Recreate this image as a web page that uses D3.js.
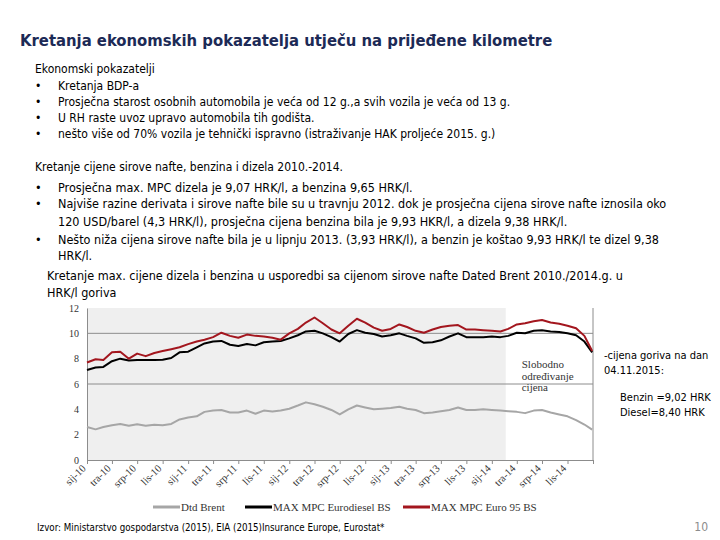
<html>
<head>
<meta charset="utf-8">
<script src="https://d3js.org/d3.v7.min.js"></script>
<style>
body { margin: 0; background: #fff; }
.txt { font-family: "Liberation Sans Narrow", "Arial Narrow", "DejaVu Sans Condensed", sans-serif; fill: #000; }
.ser { font-family: "Liberation Serif", "Times New Roman", serif; fill: #333; }
</style>
</head>
<body>
<svg id="c" width="720" height="540"></svg>
<script>
// monthly values, 1st of each month Jan 2010 .. Dec 2014, last one = end of Dec 2014 (HRK/l)
var brent = [2.6, 2.42, 2.6, 2.75, 2.85, 2.7, 2.82, 2.7, 2.78, 2.75, 2.85, 3.2,
  3.35, 3.45, 3.8, 3.9, 3.95, 3.75, 3.75, 3.9, 3.65, 3.9, 3.82, 3.9,
  4.05, 4.3, 4.55, 4.4, 4.2, 3.95, 3.6, 4.0, 4.3, 4.15, 4.0, 4.05,
  4.1, 4.2, 4.05, 3.95, 3.7, 3.75, 3.85, 3.95, 4.15, 3.95, 3.95, 4.0,
  3.95, 3.9, 3.85, 3.8, 3.7, 3.9, 3.95, 3.75, 3.6, 3.45, 3.15, 2.8, 2.4];
var diesel = [7.1, 7.3, 7.35, 7.8, 8.0, 7.85, 7.9, 7.9, 7.9, 7.92, 8.05, 8.5,
  8.55, 8.9, 9.2, 9.35, 9.4, 9.1, 9.0, 9.15, 9.05, 9.3, 9.35, 9.4,
  9.6, 9.85, 10.15, 10.2, 10.0, 9.7, 9.35, 9.95, 10.25, 10.05, 9.95, 9.75,
  9.85, 10.0, 9.8, 9.6, 9.25, 9.3, 9.45, 9.75, 10.0, 9.7, 9.7, 9.7,
  9.75, 9.7, 9.8, 10.05, 10.0, 10.2, 10.25, 10.15, 10.1, 10.0, 9.85, 9.35, 8.5];
var euro95 = [7.7, 7.95, 7.9, 8.5, 8.55, 8.0, 8.4, 8.2, 8.45, 8.6, 8.75, 8.9,
  9.15, 9.35, 9.5, 9.7, 10.05, 9.8, 9.65, 9.9, 9.8, 9.75, 9.65, 9.5,
  10.0, 10.35, 10.85, 11.25, 10.8, 10.3, 10.0, 10.6, 11.15, 10.85, 10.45, 10.2,
  10.35, 10.7, 10.5, 10.2, 10.05, 10.3, 10.5, 10.6, 10.65, 10.3, 10.3, 10.25,
  10.2, 10.15, 10.35, 10.7, 10.8, 10.95, 11.05, 10.85, 10.75, 10.6, 10.4, 9.8, 8.6];
var seriesNames = ["Dtd Brent", "MAX MPC Eurodiesel BS", "MAX MPC Euro 95 BS"];
var seriesColors = ["#a6a6a6", "#000000", "#a3161e"];
var monthLabels = ["sij", "tra", "srp", "lis"];
var yTicks = [0, 2, 4, 6, 8, 10, 12];
var gridVals = [6, 10];
var freeDate = new Date(2014, 1, 20);

var dates = d3.range(brent.length).map(function(i) {
  return i < 60 ? new Date(2010, i, 1) : new Date(2014, 11, 29);
});

var svg = d3.select("#c");

// ---- text parts
svg.append("text").attr("class", "txt").attr("x", 20).attr("y", 46)
  .style("font-size", "16.5px").style("font-weight", "bold").style("fill", "#1c2a56")
  .text("Kretanja ekonomskih pokazatelja utječu na prijeđene kilometre");

var block1 = ["Kretanja BDP-a",
  "Prosječna starost osobnih automobila je veća od 12 g.,a svih vozila je veća od 13 g.",
  "U RH raste uvoz upravo automobila  tih godišta.",
  "nešto više od 70% vozila je tehnički ispravno (istraživanje HAK proljeće 2015. g.)"];
svg.append("text").attr("class", "txt").attr("x", 35).attr("y", 73)
  .style("font-size", "12px").text("Ekonomski pokazatelji");
block1.forEach(function(t, i) {
  svg.append("text").attr("class", "txt").attr("x", 35).attr("y", 90 + i * 16)
    .style("font-size", "12px").text("•");
  svg.append("text").attr("class", "txt").attr("x", 58).attr("y", 90 + i * 16)
    .style("font-size", "12px").text(t);
});

svg.append("text").attr("class", "txt").attr("x", 35).attr("y", 171)
  .style("font-size", "12px").text("Kretanje cijene sirove nafte, benzina i dizela 2010.-2014.");
var block2 = [
  [192, "•", "Prosječna max. MPC dizela  je 9,07 HRK/l, a benzina 9,65 HRK/l."],
  [208, "•", "Najviše razine derivata i sirove nafte bile su u travnju 2012. dok je prosječna cijena sirove nafte iznosila oko"],
  [226, "", "120 USD/barel (4,3 HRK/l), prosječna cijena benzina bila je 9,93 HKR/l,  a dizela 9,38 HRK/l."],
  [244, "•", "Nešto niža cijena sirove nafte bila je u lipnju 2013. (3,93 HRK/l), a benzin je koštao 9,93 HRK/l te dizel 9,38"],
  [260, "", "HRK/l."]];
block2.forEach(function(r) {
  if (r[1]) svg.append("text").attr("class", "txt").attr("x", 35).attr("y", r[0])
    .style("font-size", "12.5px").text(r[1]);
  svg.append("text").attr("class", "txt").attr("x", 58).attr("y", r[0])
    .style("font-size", "12.5px").text(r[2]);
});
svg.append("text").attr("class", "txt").attr("x", 47).attr("y", 280)
  .style("font-size", "12.5px").text("Kretanje max. cijene dizela i benzina u usporedbi sa cijenom sirove nafte Dated Brent 2010./2014.g. u");
svg.append("text").attr("class", "txt").attr("x", 47).attr("y", 297)
  .style("font-size", "12.5px").text("HRK/l goriva");

// ---- chart
var x = d3.scaleTime().domain([new Date(2010, 0, 1), new Date(2015, 0, 1)]).range([87, 593]);
var y = d3.scaleLinear().domain([0, 12]).range([460, 308]);

svg.append("rect").attr("x", x.range()[0]).attr("y", y(12))
  .attr("width", x(freeDate) - x.range()[0]).attr("height", y(0) - y(12))
  .attr("fill", "#efefef");

svg.selectAll("line.grid").data(gridVals).enter().append("line")
  .attr("x1", x.range()[0]).attr("x2", x.range()[1])
  .attr("y1", function(d) { return y(d); }).attr("y2", function(d) { return y(d); })
  .attr("stroke", "#8c8c8c").attr("stroke-width", 1);

// right border
svg.append("line").attr("x1", x.range()[1]).attr("x2", x.range()[1])
  .attr("y1", y(12)).attr("y2", y(0)).attr("stroke", "#8c8c8c");

var yAxis = svg.append("g").attr("transform", "translate(" + x.range()[0] + ",0)")
  .call(d3.axisLeft(y).tickValues(yTicks).tickSize(0).tickPadding(8));
yAxis.select(".domain").attr("stroke", "#8c8c8c");
yAxis.selectAll("text").attr("class", "ser").style("font-size", "10px").attr("fill", "#333");

var qTicks = d3.timeMonth.every(3).range(new Date(2010, 0, 1), new Date(2015, 0, 2));
var xAxis = svg.append("g").attr("transform", "translate(0," + y(0) + ")")
  .call(d3.axisBottom(x).tickValues(qTicks).tickSize(4).tickFormat(function(d) {
    if (d.getFullYear() > 2014) return "";
    return monthLabels[d.getMonth() / 3] + "-" + String(d.getFullYear()).slice(2);
  }));
xAxis.select(".domain").attr("stroke", "#8c8c8c");
xAxis.selectAll(".tick line").attr("stroke", "#8c8c8c");
xAxis.selectAll("text").attr("class", "ser").style("font-size", "10.5px").attr("fill", "#333")
  .attr("text-anchor", "end").attr("dy", null).attr("y", 0)
  .attr("transform", "translate(-1,9) rotate(-45)");

var line = d3.line().x(function(d, i) { return x(dates[i]); }).y(function(d) { return y(d); });
[brent, diesel, euro95].forEach(function(s, k) {
  svg.append("path").datum(s).attr("d", line).attr("fill", "none")
    .attr("stroke", seriesColors[k]).attr("stroke-width", 2).attr("stroke-linejoin", "round");
});

// annotation
["Slobodno", "određivanje", "cijena"].forEach(function(t, i) {
  svg.append("text").attr("class", "ser").attr("x", x(freeDate) + 16).attr("y", 368 + i * 11.5)
    .style("font-size", "11px").text(t);
});

// legend
var legX = [153, 245, 403];
seriesNames.forEach(function(n, k) {
  svg.append("line").attr("x1", legX[k]).attr("x2", legX[k] + 27).attr("y1", 507).attr("y2", 507)
    .attr("stroke", seriesColors[k]).attr("stroke-width", 3);
  svg.append("text").attr("class", "ser").attr("x", legX[k] + 28).attr("y", 511)
    .style("font-size", "11px").text(n);
});

// right note
var note = [[604, 359, "-cijena goriva na dan"], [604, 374, "04.11.2015:"],
  [620, 401, "Benzin =9,02 HRK"], [620, 416, "Diesel=8,40 HRK"]];
note.forEach(function(r) {
  svg.append("text").attr("class", "txt").attr("x", r[0]).attr("y", r[1])
    .style("font-size", "11px").text(r[2]);
});

// footer
svg.append("text").attr("class", "txt").attr("x", 37).attr("y", 531)
  .style("font-size", "9.7px").text("Izvor: Ministarstvo gospodarstva (2015), EIA (2015)Insurance Europe, Eurostat*");
svg.append("text").attr("class", "txt").attr("x", 708).attr("y", 531).attr("text-anchor", "end")
  .style("font-size", "12px").style("fill", "#8c8c8c").text("10");
</script>
</body>
</html>
